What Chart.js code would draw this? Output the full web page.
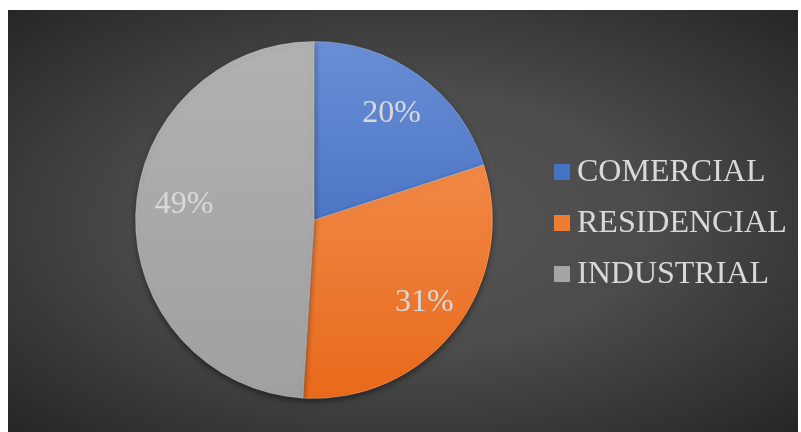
<!DOCTYPE html>
<html>
<head>
<meta charset="utf-8">
<script src="https://cdn.jsdelivr.net/npm/chart.js@4.4.1/dist/chart.umd.min.js"></script>
<style>
  html, body { margin: 0; padding: 0; background: #fff; }
  #frame {
    position: absolute; left: 8px; top: 10px; width: 790px; height: 422px;
    background: radial-gradient(ellipse at 50% 50%, #575757 0%, #4b4b4b 45%, #262626 100%);
  }
</style>
</head>
<body>
<div id="frame"><canvas id="pie" width="790" height="422"></canvas></div>
<script>
const categories = ["COMERCIAL", "RESIDENCIAL", "INDUSTRIAL"];
const shares = [20, 31, 49];
const topColors = ["#6b8fd6", "#f69a5e", "#b1b1b1"];
const bottomColors = ["#2d5cb5", "#e8691a", "#a0a0a0"];
const legendColors = ["#4472c4", "#ed7d31", "#a5a5a5"];
// small nudges for the percentage labels, in pixels
const labelShift = [[0, 0], [6, 2], [2, -11]];

const TEXT_COLOR = "#d9d9d9";
const SERIF = "'Liberation Serif', 'Times New Roman', serif";

function sliceFill(ctx) {
  const area = ctx.chart.chartArea;
  if (!area) return legendColors[ctx.dataIndex];
  const g = ctx.chart.ctx.createLinearGradient(0, area.top, 0, area.bottom);
  g.addColorStop(0, topColors[ctx.dataIndex]);
  g.addColorStop(1, bottomColors[ctx.dataIndex]);
  return g;
}

const pieShadow = {
  id: "pieShadow",
  beforeDatasetsDraw(chart) {
    const c = chart.ctx;
    c.save();
    c.shadowColor = "rgba(0,0,0,0.45)";
    c.shadowBlur = 6;
    c.shadowOffsetY = 3;
  },
  afterDatasetsDraw(chart) {
    chart.ctx.restore();
  },
};

const sliceLabels = {
  id: "sliceLabels",
  afterDatasetsDraw(chart) {
    const c = chart.ctx;
    const meta = chart.getDatasetMeta(0);
    c.save();
    c.font = "32px " + SERIF;
    c.fillStyle = TEXT_COLOR;
    c.textAlign = "center";
    c.textBaseline = "middle";
    meta.data.forEach((arc, i) => {
      const p = arc.getProps(["x", "y", "startAngle", "endAngle", "outerRadius"]);
      const mid = (p.startAngle + p.endAngle) / 2;
      const r = p.outerRadius * 0.74;
      const [dx, dy] = labelShift[i];
      c.fillText(shares[i] + "%", p.x + Math.cos(mid) * r + dx, p.y + Math.sin(mid) * r + dy);
    });
    c.restore();
  },
};

const sideLegend = {
  id: "sideLegend",
  afterDraw(chart) {
    const c = chart.ctx;
    c.save();
    c.font = "32px " + SERIF;
    c.textBaseline = "middle";
    categories.forEach((name, i) => {
      const y = 162 + i * 51;
      c.fillStyle = legendColors[i];
      c.fillRect(546, y - 8, 16, 16);
      c.fillStyle = TEXT_COLOR;
      c.fillText(name, 569, y + 1);
    });
    c.restore();
  },
};

new Chart(document.getElementById("pie"), {
  type: "pie",
  data: {
    labels: categories,
    datasets: [
      {
        data: shares,
        backgroundColor: sliceFill,
        borderColor: "rgba(255,255,255,0.25)",
        borderWidth: 1,
      },
    ],
  },
  options: {
    responsive: false,
    animation: false,
    layout: { padding: { left: 127, right: 305, top: 31, bottom: 33 } },
    plugins: {
      legend: { display: false },
      tooltip: { enabled: false },
    },
  },
  plugins: [pieShadow, sliceLabels, sideLegend],
});
</script>
</body>
</html>
